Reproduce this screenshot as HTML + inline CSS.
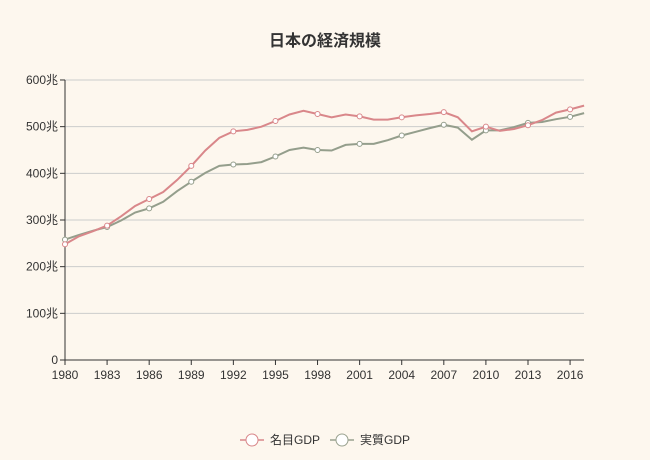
<!DOCTYPE html>
<html><head><meta charset="utf-8"><style>
body{margin:0;background:#fdf7ee;}
svg{display:block;font-family:"Liberation Sans","Noto Sans CJK JP",sans-serif;}
</style></head><body>
<svg id="c" width="650" height="460" xmlns="http://www.w3.org/2000/svg">
<rect width="650" height="460" fill="#fdf7ee"/>
<text x="325" y="46" text-anchor="middle" font-size="16" font-weight="bold" fill="#333">日本の経済規模</text>
<g id="g"></g>
<g font-size="12" fill="#333">
<line x1="240" y1="440" x2="264" y2="440" stroke="#d9878a" stroke-width="1.5"/><circle cx="252" cy="440" r="6" fill="#fff" stroke="#d9878a"/>
<text x="270" y="444">名目GDP</text>
<line x1="330" y1="440" x2="354" y2="440" stroke="#9aa28f" stroke-width="1.5"/><circle cx="342" cy="440" r="6" fill="#fff" stroke="#9aa28f"/>
<text x="360" y="444">実質GDP</text>
</g>
</svg>
<script>
var nom=[248,265,276,288,308,330,345,360,386,416,449,476,490,493,500,512,526,534,527,520,526,522,515,515,520,524,527,531,520,490,500,491,495,503,514,530,537,545];
var real=[258,268,277,285,299,316,325,339,362,382,401,416,419,420,424,436,450,455,450,449,461,463,463,471,481,489,497,504,498,472,492,492,499,508,510,516,521,529];
var X=function(i){return 65+i*14.03},Y=function(v){return 360-v*0.4667};
var s='';
for(var k=1;k<=6;k++){var y=Y(k*100);s+='<line x1="65" x2="584" y1="'+y+'" y2="'+y+'" stroke="#ccc"/>';s+='<line x1="60" x2="65" y1="'+y+'" y2="'+y+'" stroke="#333"/>';s+='<text x="58" y="'+(y+4)+'" text-anchor="end" font-size="12" fill="#333">'+(k*100)+'兆</text>';}
s+='<text x="58" y="364" text-anchor="end" font-size="12" fill="#333">0</text><line x1="60" x2="65" y1="360" y2="360" stroke="#333"/>';
s+='<line x1="65" x2="65" y1="80" y2="360" stroke="#333"/><line x1="65" x2="584" y1="360" y2="360" stroke="#333"/>';
for(var i=0;i<=36;i+=3){var x=X(i);s+='<line x1="'+x+'" x2="'+x+'" y1="360" y2="365" stroke="#333"/><text x="'+x+'" y="379" text-anchor="middle" font-size="12" fill="#333">'+(1980+i)+'</text>';}
function line(d,c){var p=d.map(function(v,i){return X(i).toFixed(1)+','+Y(v).toFixed(1)}).join(' ');var r='<polyline points="'+p+'" fill="none" stroke="'+c+'" stroke-width="2"/>';for(var i=0;i<d.length;i+=3)r+='<circle cx="'+X(i)+'" cy="'+Y(d[i])+'" r="2.5" fill="#fff" stroke="'+c+'"/>';return r;}
s+=line(real,'#949e8c')+line(nom,'#d9878a');
document.getElementById('g').innerHTML=s;
</script>
</body></html>
